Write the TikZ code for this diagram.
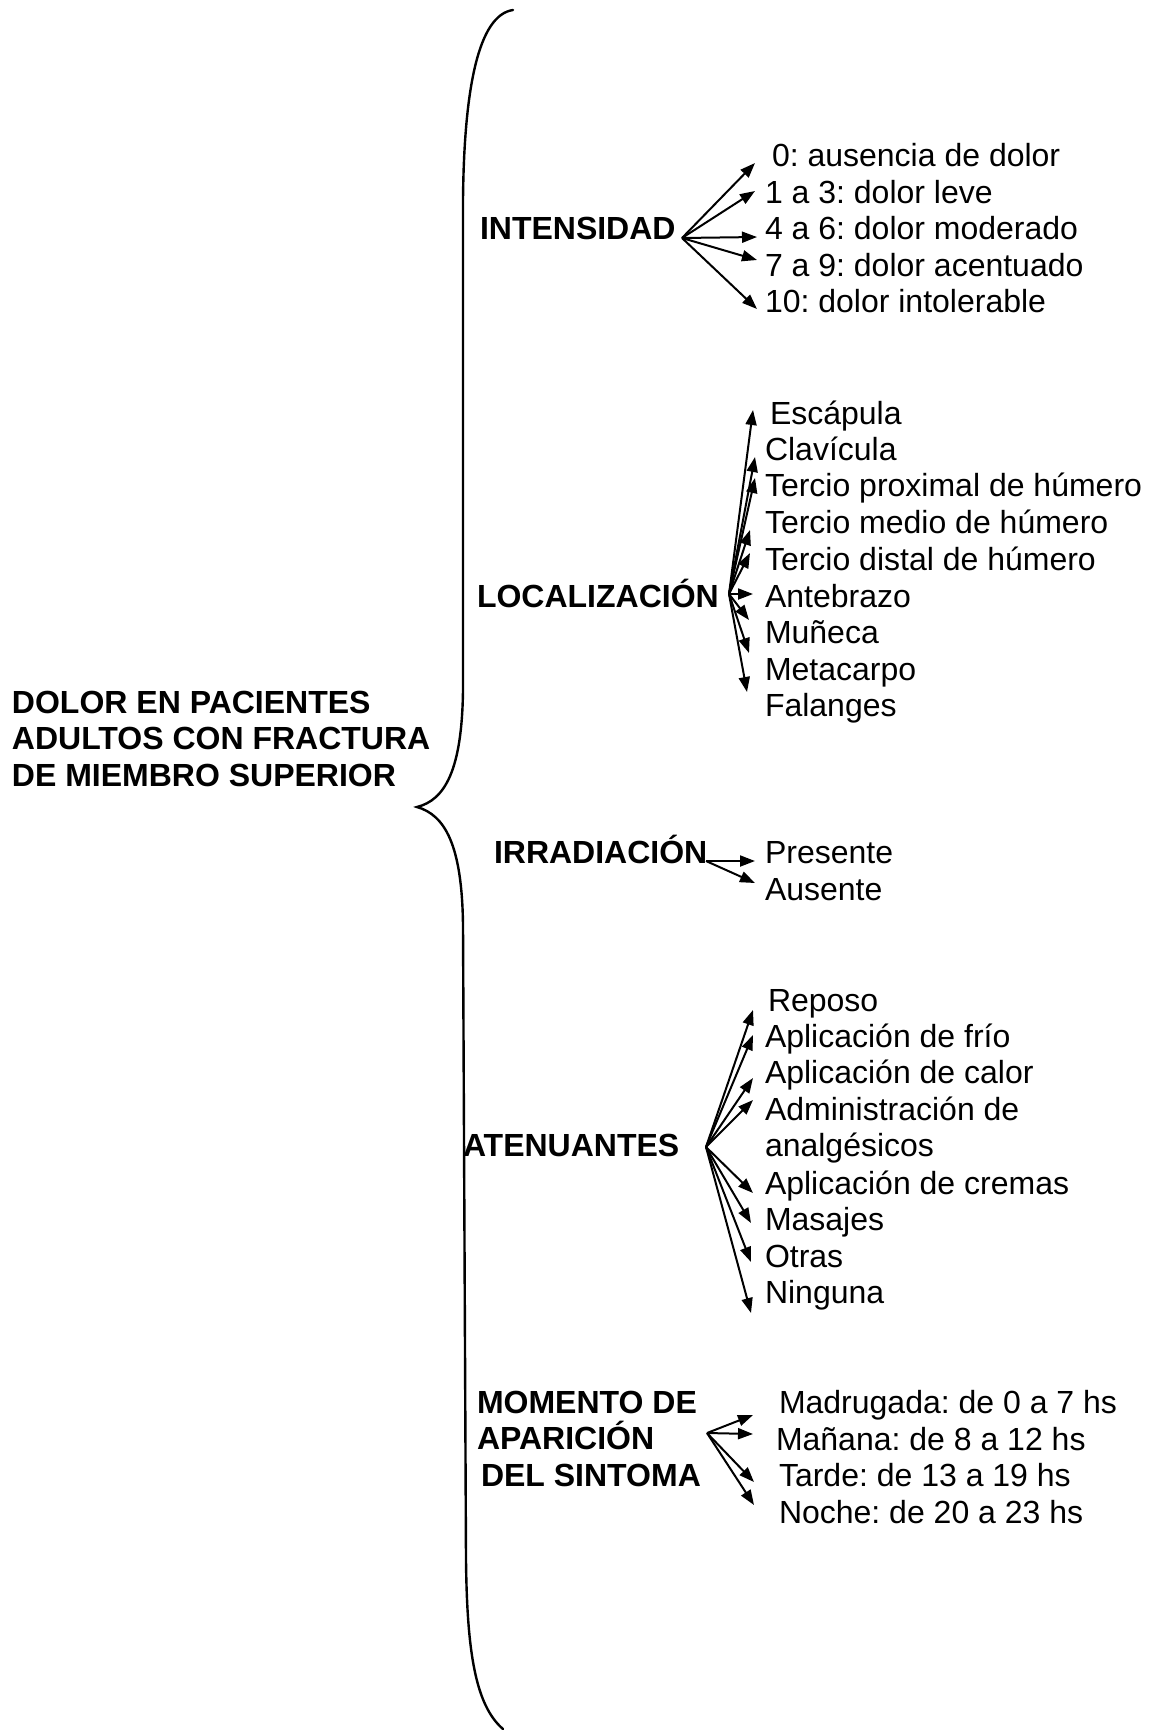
\documentclass[tikz,border=0pt]{standalone}
\usepackage{fontspec}
\setmainfont{Liberation Sans}
\usetikzlibrary{arrows.meta}
\frenchspacing
\begin{document}
\begin{tikzpicture}[x=1pt,y=-1pt,
  every node/.style={inner sep=0pt, outer sep=0pt, font=\fontsize{32}{36.6}\selectfont},
  cat/.style={anchor=base west, align=left, font=\fontsize{32}{36.6}\selectfont\bfseries},
  item/.style={anchor=base west, align=left},
  arr/.style={line width=2pt, -{Triangle[length=15pt,width=11pt]}},
  brace/.style={line width=2.4pt, line cap=round}]
\useasboundingbox (0,0) rectangle (1153,1730);

% title (base anchor = last line)
\node[cat] (title) at (12,786.2) {DOLOR EN PACIENTES\\ADULTOS CON FRACTURA\\DE MIEMBRO SUPERIOR};

% brace
\draw[brace] (513,10) .. controls (478,15) and (464,90) .. (463,200)
  -- (463,690) .. controls (462,770) and (445,800) .. (417,807)
  .. controls (445,815) and (462,845) .. (463,925)
  -- (466,1560) .. controls (467,1650) and (475,1705) .. (503,1729);

% INTENSIDAD
\node[cat] (int) at (480,239) {INTENSIDAD};
\coordinate (oI) at (682,238);
\node[item] (i1) at (772,166) {0: ausencia de dolor};
\node[item] (i2) at (765,203) {1 a 3: dolor leve};
\node[item] (i3) at (765,239.5) {4 a 6: dolor moderado};
\node[item] (i4) at (765,276) {7 a 9: dolor acentuado};
\node[item] (i5) at (765,312) {10: dolor intolerable};
\draw[arr] (oI) -- ([xshift=-17pt,yshift=3pt]i1.base west);
\draw[arr] (oI) -- ([xshift=-10pt,yshift=12pt]i2.base west);
\draw[arr] (oI) -- ([xshift=-8pt,yshift=2.5pt]i3.base west);
\draw[arr] (oI) -- ([xshift=-8pt,yshift=16pt]i4.base west);
\draw[arr] (oI) -- ([xshift=-8pt,yshift=3pt]i5.base west);

% LOCALIZACION
\node[cat] (loc) at (477,607) {LOCALIZACIÓN};
\coordinate (oL) at (729,594);
\node[item] (l1) at (770,424) {Escápula};
\node[item] (l2) at (765,460) {Clavícula};
\node[item] (l3) at (765,496) {Tercio proximal de húmero};
\node[item] (l4) at (765,533) {Tercio medio de húmero};
\node[item] (l5) at (765,570) {Tercio distal de húmero};
\node[item] (l6) at (765,607) {Antebrazo};
\node[item] (l7) at (765,643) {Muñeca};
\node[item] (l8) at (765,680) {Metacarpo};
\node[item] (l9) at (765,716) {Falanges};
\draw[arr] (oL) -- ([xshift=-17pt,yshift=14pt]l1.base west);
\draw[arr] (oL) -- ([xshift=-10pt,yshift=3pt]l2.base west);
\draw[arr] (oL) -- ([xshift=-10pt,yshift=18pt]l3.base west);
\draw[arr] (oL) -- ([xshift=-15pt,yshift=3pt]l4.base west);
\draw[arr] (oL) -- ([xshift=-15pt,yshift=17pt]l5.base west);
\draw[arr] (oL) -- ([xshift=-12pt,yshift=13pt]l6.base west);
\draw[arr] (oL) -- ([xshift=-16pt,yshift=23pt]l7.base west);
\draw[arr] (oL) -- ([xshift=-16pt,yshift=27pt]l8.base west);
\draw[arr] (oL) -- ([xshift=-18pt,yshift=24pt]l9.base west);

% IRRADIACION
\node[cat] (irr) at (494,863) {IRRADIACIÓN};
\coordinate (oR) at (706,861);
\node[item] (r1) at (765,863) {Presente};
\node[item] (r2) at (765,900) {Ausente};
\draw[arr] (oR) -- ([xshift=-10pt,yshift=2pt]r1.base west);
\draw[arr] (oR) -- ([xshift=-10pt,yshift=17pt]r2.base west);

% ATENUANTES
\node[cat] (ate) at (463,1156) {ATENUANTES};
\coordinate (oA) at (706,1147);
\node[item] (a1) at (768,1011) {Reposo};
\node[item] (a2) at (765,1047) {Aplicación de frío};
\node[item] (a3) at (765,1083) {Aplicación de calor};
\node[item] (a4) at (765,1156.6) {Administración de\\analgésicos};
\node[item] (a5) at (765,1194) {Aplicación de cremas};
\node[item] (a6) at (765,1230) {Masajes};
\node[item] (a7) at (765,1267) {Otras};
\node[item] (a8) at (765,1303) {Ninguna};
\draw[arr] (oA) -- ([xshift=-15pt,yshift=1pt]a1.base west);
\draw[arr] (oA) -- ([xshift=-12pt,yshift=12pt]a2.base west);
\draw[arr] (oA) -- ([xshift=-12pt,yshift=5pt]a3.base west);
\draw[arr] (oA) -- ([xshift=-12pt,yshift=56.6pt]a4.base west);
\draw[arr] (oA) -- ([xshift=-12pt,yshift=1pt]a5.base west);
\draw[arr] (oA) -- ([xshift=-14pt,yshift=7pt]a6.base west);
\draw[arr] (oA) -- ([xshift=-14pt,yshift=5pt]a7.base west);
\draw[arr] (oA) -- ([xshift=-14pt,yshift=-10pt]a8.base west);

% MOMENTO (base anchor = last line)
\node[cat] (mom) at (477,1486.2) {MOMENTO DE\\APARICIÓN\\\hspace{4pt}DEL SINTOMA};
\coordinate (oM) at (707,1433);
\node[item] (m1) at (779,1413) {Madrugada: de 0 a 7 hs};
\node[item] (m2) at (776,1450) {Mañana: de 8 a 12 hs};
\node[item] (m3) at (779,1486) {Tarde: de 13 a 19 hs};
\node[item] (m4) at (779,1523) {Noche: de 20 a 23 hs};
\draw[arr] (oM) -- ([xshift=-26pt,yshift=-2pt]m1.base west);
\draw[arr] (oM) -- ([xshift=-23pt,yshift=16pt]m2.base west);
\draw[arr] (oM) -- ([xshift=-25pt,yshift=4pt]m3.base west);
\draw[arr] (oM) -- ([xshift=-25pt,yshift=18pt]m4.base west);
\end{tikzpicture}
\end{document}
